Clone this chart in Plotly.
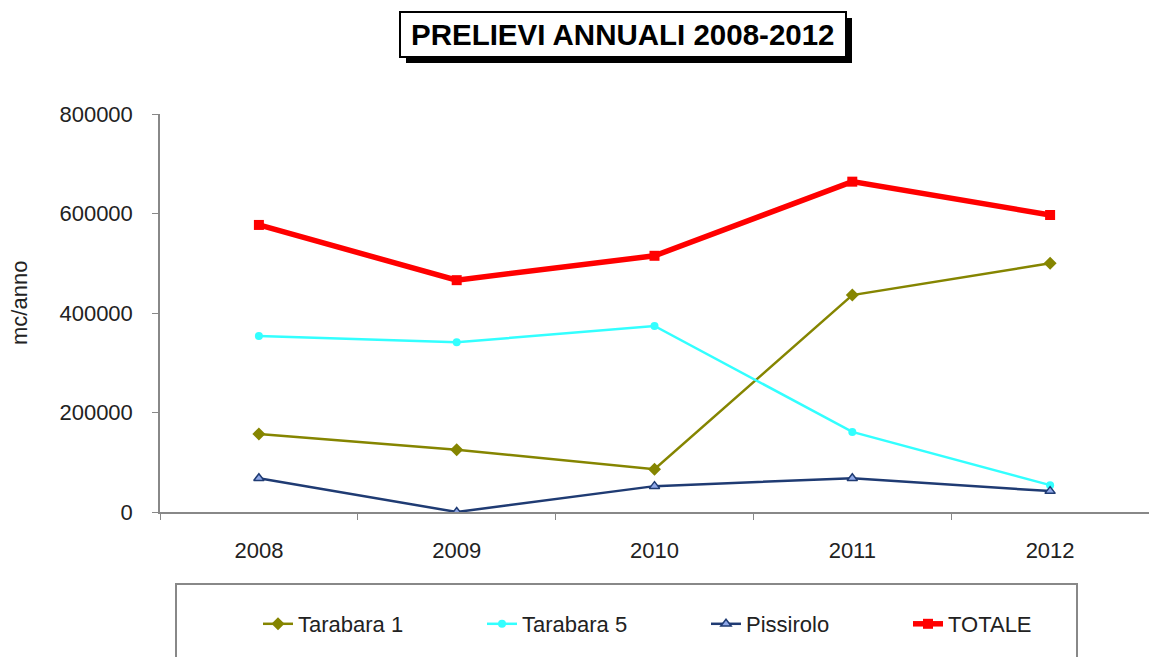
import plotly.graph_objects as go

years = ["2008", "2009", "2010", "2011", "2012"]
tarabara1 = [157000, 125000, 86000, 436000, 500000]
tarabara5 = [354000, 341000, 374000, 161000, 54000]
pissirolo = [68000, 0, 52000, 68000, 42000]
totale = [577000, 466000, 515000, 664000, 597000]
y_ticks = [0, 200000, 400000, 600000, 800000]

W, H = 1149, 657
L, R, T, B = 160, 0, 114, 145
PW, PH = W - L - R, H - T - B

def px(x):
    return (x - L) / PW

def py(y):
    return (H - B - y) / PH

FONT = "Liberation Sans, Arial, sans-serif"

fig = go.Figure()
fig.add_trace(go.Scatter(x=years, y=tarabara1, name="Tarabara 1", mode="lines+markers",
                         line=dict(color="#858500", width=2.5),
                         marker=dict(symbol="diamond", size=10, color="#858500"),
                         legend="legend"))
fig.add_trace(go.Scatter(x=years, y=tarabara5, name="Tarabara 5", mode="lines+markers",
                         line=dict(color="#33FFFF", width=2.5),
                         marker=dict(symbol="circle", size=8, color="#33FFFF"),
                         legend="legend2"))
fig.add_trace(go.Scatter(x=years, y=pissirolo, name="Pissirolo", mode="lines+markers",
                         line=dict(color="#1F3B73", width=2.5),
                         marker=dict(symbol="triangle-up", size=9, color="#8FA8E8",
                                     line=dict(color="#1F3B73", width=1.5)),
                         legend="legend3"))
fig.add_trace(go.Scatter(x=years, y=totale, name="TOTALE", mode="lines+markers",
                         line=dict(color="#FF0000", width=5.5),
                         marker=dict(symbol="square", size=10, color="#FF0000"),
                         legend="legend4"))

def leg(xpix):
    return dict(x=px(xpix), y=py(624), xanchor="left", yanchor="middle",
                bgcolor="rgba(0,0,0,0)", font=dict(family=FONT, size=22, color="#222222"),
                orientation="h")

shapes = [
    # legend box
    dict(type="rect", xref="paper", yref="paper", x0=px(176), x1=px(1077),
         y0=py(670), y1=py(584), line=dict(color="#888888", width=2), fillcolor="rgba(0,0,0,0)", layer="below"),
    # title shadow
    dict(type="rect", xref="paper", yref="paper", x0=px(406), x1=px(852),
         y0=py(63), y1=py(18), line=dict(width=0), fillcolor="#000000"),
    # title box
    dict(type="rect", xref="paper", yref="paper", x0=px(400), x1=px(846),
         y0=py(57), y1=py(12), line=dict(color="#000000", width=2), fillcolor="#FFFFFF"),
]

annotations = [
    dict(text="<b>PRELIEVI ANNUALI 2008-2012</b>", xref="paper", yref="paper",
         x=px(623), y=py(35), xanchor="center", yanchor="middle", showarrow=False,
         font=dict(family=FONT, size=29.5, color="#000000")),
    dict(text="mc/anno", xref="paper", yref="paper", x=px(19), y=py(303),
         xanchor="center", yanchor="middle", showarrow=False, textangle=-90,
         font=dict(family=FONT, size=22, color="#222222")),
]

fig.update_layout(
    width=W, height=H,
    margin=dict(l=L, r=R, t=T, b=B, pad=0),
    paper_bgcolor="#FFFFFF", plot_bgcolor="#FFFFFF",
    showlegend=True,
    legend=leg(258), legend2=leg(482), legend3=leg(706), legend4=leg(908),
    shapes=shapes, annotations=annotations,
    xaxis=dict(type="category", categoryorder="array", categoryarray=years,
               range=[-0.5, 4.5], showgrid=False, zeroline=False,
               showline=True, linecolor="#888888", linewidth=1.5,
               ticks="outside", tickson="boundaries", ticklen=6, tickcolor="#888888",
               ticklabelstandoff=18,
               tickfont=dict(family=FONT, size=22, color="#222222")),
    yaxis=dict(range=[0, 800000], tickvals=y_ticks, ticktext=[str(v) for v in y_ticks],
               showgrid=False, zeroline=False,
               showline=True, linecolor="#888888", linewidth=1.5,
               ticks="outside", ticklen=6, tickcolor="#888888",
               ticklabelstandoff=15,
               tickfont=dict(family=FONT, size=22, color="#222222")),
)

fig.write_html("out.html")
